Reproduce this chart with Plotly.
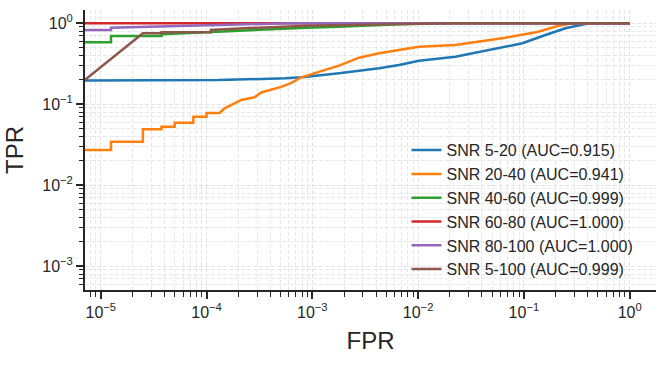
import plotly.graph_objects as go

# ROC curve points (fpr, tpr)
fpr_5_20 = [1e-6, 1.28e-4, 5.5e-4, 7.9e-4, 1.79e-3, 4.28e-3, 6.6e-3, 1.02e-2, 2.25e-2, 4.62e-2, 9.68e-2, 0.16, 0.247, 0.381, 0.45, 1.0]
tpr_5_20 = [0.195, 0.199, 0.209, 0.215, 0.241, 0.278, 0.305, 0.345, 0.386, 0.468, 0.566, 0.717, 0.867, 0.98, 1.0, 1.0]

fpr_20_40 = [1e-6, 1.25e-5, 1.25e-5, 2.5e-5, 2.5e-5, 3.75e-5, 3.75e-5, 5e-5, 5e-5, 7.5e-5, 7.5e-5, 1e-4, 1e-4,
             1.33e-4, 1.48e-4, 1.91e-4, 2.13e-4, 2.84e-4, 3.29e-4, 5.08e-4, 6.32e-4, 7.86e-4, 1.16e-3, 1.79e-3,
             2.77e-3, 4.28e-3, 6.6e-3, 1.02e-2, 2.25e-2, 6.68e-2, 0.137, 0.212, 0.288, 1.0]
tpr_20_40 = [0.0272, 0.0272, 0.0344, 0.0344, 0.049, 0.049, 0.0527, 0.0527, 0.059, 0.059, 0.070, 0.070, 0.078,
             0.078, 0.089, 0.104, 0.113, 0.122, 0.140, 0.164, 0.184, 0.215, 0.252, 0.30,
             0.376, 0.426, 0.468, 0.514, 0.539, 0.664, 0.787, 0.934, 1.0, 1.0]

fpr_40_60 = [1e-6, 1.25e-5, 1.25e-5, 3.75e-5, 3.75e-5, 6.2e-5, 1.27e-4, 2.29e-4, 8.8e-4, 1.79e-3, 6.6e-3, 0.02, 1.0]
tpr_40_60 = [0.582, 0.582, 0.697, 0.697, 0.73, 0.752, 0.787, 0.826, 0.883, 0.908, 0.972, 1.0, 1.0]

fpr_60_80 = [1e-6, 1.0]
tpr_60_80 = [1.0, 1.0]

fpr_80_100 = [1e-6, 1.25e-5, 1.25e-5, 5e-5, 2.29e-4, 6e-4, 1.0]
tpr_80_100 = [0.826, 0.826, 0.883, 0.926, 0.972, 1.0, 1.0]

fpr_5_100 = [7.1e-6, 2.5e-5, 3.75e-5, 3.75e-5, 1.1e-4, 1.1e-4, 2.29e-4, 8.8e-4, 6.6e-3, 0.02, 1.0]
tpr_5_100 = [0.2, 0.752, 0.752, 0.774, 0.774, 0.826, 0.867, 0.934, 0.98, 1.0, 1.0]

labels = ["SNR 5-20 (AUC=0.915)", "SNR 20-40 (AUC=0.941)", "SNR 40-60 (AUC=0.999)",
          "SNR 60-80 (AUC=1.000)", "SNR 80-100 (AUC=1.000)", "SNR 5-100 (AUC=0.999)"]
colors = ["#1f77b4", "#ff7f0e", "#2ca02c", "#d62728", "#9467bd", "#8c564b"]

x_exps = [-5, -4, -3, -2, -1, 0]
y_exps = [-3, -2, -1, 0]

curves = [(fpr_5_20, tpr_5_20), (fpr_20_40, tpr_20_40), (fpr_40_60, tpr_40_60),
          (fpr_60_80, tpr_60_80), (fpr_80_100, tpr_80_100), (fpr_5_100, tpr_5_100)]

fig = go.Figure()
for (fx, ty), name, col in zip(curves, labels, colors):
    fig.add_trace(go.Scatter(x=fx, y=ty, mode="lines", name=name,
                             line=dict(color=col, width=2.5)))


def power_text(e):
    return "10<sup>" + str(e).replace("-", "\u2212") + "</sup>"


def minor_vals(lo, hi):
    return [m * 10.0 ** e for e in range(lo, hi) for m in range(2, 10)]


grid_dash = "4px,2px"
axis_common = dict(
    type="log", automargin=False,
    showline=True, linewidth=2, linecolor="#262626",
    ticks="outside", ticklen=7, tickwidth=1.5, tickcolor="#262626",
    tickfont=dict(size=16, color="#262626"),
    showgrid=True, gridcolor="#e3e3e3", griddash=grid_dash, gridwidth=1,
    zeroline=False, mirror=False,
)
minor_common = dict(tickmode="array", ticks="outside", ticklen=4.5, tickwidth=1,
                    tickcolor="#262626", showgrid=True, gridcolor="#e8e8e8",
                    griddash=grid_dash, gridwidth=1)

fig.update_xaxes(
    **axis_common,
    range=[-5.149, 0.249],
    tickmode="array", tickvals=[10.0 ** e for e in x_exps], ticktext=[power_text(e) for e in x_exps],
    minor=dict(tickvals=minor_vals(-6, 1), **minor_common),
    title=dict(text="FPR", font=dict(size=24, color="#262626"), standoff=12),
)
fig.update_yaxes(
    **axis_common,
    range=[-3.293, 0.164],
    tickmode="array", tickvals=[10.0 ** e for e in y_exps], ticktext=[power_text(e) for e in y_exps],
    minor=dict(tickvals=minor_vals(-4, 1), **minor_common),
    title=dict(text="TPR", font=dict(size=24, color="#262626"), standoff=12),
)

fig.update_layout(
    width=666, height=366,
    margin=dict(l=85, r=10, t=10, b=76),
    plot_bgcolor="white", paper_bgcolor="white",
    font=dict(family="Liberation Sans, Arial, sans-serif", color="#262626"),
    legend=dict(x=0.563, y=0.56, xanchor="left", yanchor="top",
                bgcolor="rgba(0,0,0,0)", font=dict(size=16, color="#262626")),
    showlegend=True,
)

# drop the browser's default page margin so the figure sits at the window origin
fig.write_html("out.html", config={"displayModeBar": False},
               post_script="document.body.style.margin='0';")
